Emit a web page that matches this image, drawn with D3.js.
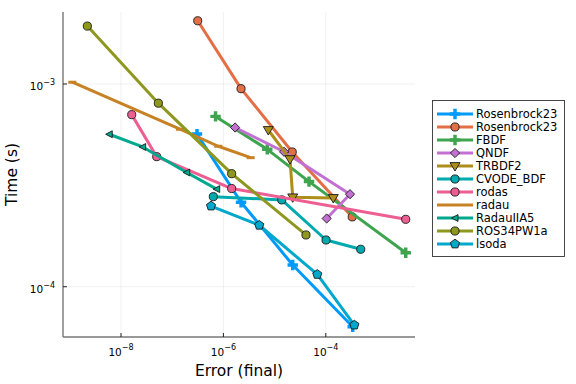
<!DOCTYPE html>
<html>
<head>
<meta charset="utf-8">
<script src="https://cdn.jsdelivr.net/npm/d3@7"></script>
<style>
  body { margin: 0; background: #fff; }
  text { font-family: "DejaVu Sans", sans-serif; fill: #000; }
</style>
</head>
<body>
<div id="graf"></div>
<script>
// I. Datos
nombres = ['Rosenbrock23', 'Rosenbrock23', 'FBDF', 'QNDF', 'TRBDF2', 'CVODE_BDF',
           'rodas', 'radau', 'RadauIIA5', 'ROS34PW1a', 'lsoda']

errRosenbrock23a = [3.05e-7, 2.21e-6, 2.26e-5, 3.35e-4]
timeRosenbrock23a = [5.66e-4, 2.61e-4, 1.28e-4, 6.35e-5]
errRosenbrock23b = [3.15e-7, 2.21e-6, 2.21e-5, 3.28e-4]
timeRosenbrock23b = [2.05e-3, 9.48e-4, 4.62e-4, 2.21e-4]
errFBDF = [7.02e-7, 7.19e-6, 4.70e-5, 3.64e-3]
timeFBDF = [6.92e-4, 4.76e-4, 3.30e-4, 1.47e-4]
errQNDF = [1.69e-6, 1.53e-5, 2.97e-4, 1.04e-4]
timeQNDF = [6.10e-4, 4.63e-4, 2.86e-4, 2.17e-4]
errTRBDF2 = [7.53e-6, 2.00e-5, 2.26e-5, 1.40e-4]
timeTRBDF2 = [5.93e-4, 4.26e-4, 2.76e-4, 2.74e-4]
errCVODE = [6.35e-7, 1.38e-5, 1.01e-4, 4.81e-4]
timeCVODE = [2.78e-4, 2.68e-4, 1.70e-4, 1.53e-4]
errRodas = [1.62e-8, 4.98e-8, 1.45e-6, 3.64e-3]
timeRodas = [7.06e-4, 4.38e-4, 3.05e-4, 2.15e-4]
errRadau = [1.12e-9, 1.42e-7, 7.94e-7, 3.41e-6]
timeRadau = [1.02e-3, 5.98e-4, 4.93e-4, 4.33e-4]
errRadauIIA5 = [5.90e-9, 2.65e-8, 1.92e-7, 7.40e-7]
timeRadauIIA5 = [5.65e-4, 4.89e-4, 3.66e-4, 3.03e-4]
errROS34 = [2.20e-9, 5.36e-8, 1.45e-6, 4.10e-5]
timeROS34 = [1.93e-3, 8.04e-4, 3.61e-4, 1.80e-4]
errLsoda = [5.73e-7, 5.02e-6, 6.82e-5, 3.61e-4]
timeLsoda = [2.50e-4, 2.01e-4, 1.15e-4, 6.47e-5]

errores = [errRosenbrock23a, errRosenbrock23b, errFBDF, errQNDF, errTRBDF2, errCVODE,
           errRodas, errRadau, errRadauIIA5, errROS34, errLsoda]
tiempos = [timeRosenbrock23a, timeRosenbrock23b, timeFBDF, timeQNDF, timeTRBDF2, timeCVODE,
           timeRodas, timeRadau, timeRadauIIA5, timeROS34, timeLsoda]

xTicks = [1e-8, 1e-6, 1e-4]
xTickExp = ['8', '6', '4']
yTicks = [1e-4, 1e-3]
yTickExp = ['4', '3']

// estilos
colores = ['#009AFA', '#E36F47', '#3EA44E', '#C271D2', '#AC8E18', '#00A9AD',
           '#ED5E93', '#C68225', '#00A98D', '#8E971E', '#00A8CB']
marcadores = ['cross', 'circle', 'cross', 'diamond', 'dtriangle', 'circle',
              'circle', 'hline', 'ltriangle', 'circle', 'pentagon']

// II. Configuración
ancho_total = 576
alto_total = 384
plot = { left: 63, right: 415, top: 12, bottom: 337 }

svg = d3.select('#graf').append('svg')
        .attr('width', ancho_total)
        .attr('height', alto_total)

x = d3.scaleLog()
      .domain([Math.pow(10, -9.133), Math.pow(10, -2.258)])
      .range([plot.left, plot.right])
y = d3.scaleLog()
      .domain([Math.pow(10, -4.248), Math.pow(10, -2.645)])
      .range([plot.bottom, plot.top])

// rejilla
g = svg.append('g')
g.selectAll('.gx').data(xTicks).enter().append('line')
  .attr('x1', d => x(d)).attr('x2', d => x(d))
  .attr('y1', plot.top).attr('y2', plot.bottom)
  .attr('stroke', '#000').attr('stroke-opacity', 0.1).attr('stroke-width', 0.6)
g.selectAll('.gy').data(yTicks).enter().append('line')
  .attr('y1', d => y(d)).attr('y2', d => y(d))
  .attr('x1', plot.left).attr('x2', plot.right)
  .attr('stroke', '#000').attr('stroke-opacity', 0.1).attr('stroke-width', 0.6)

// marcadores
function marcador(tipo) {
  switch (tipo) {
    case 'circle': return d3.symbol(d3.symbolCircle, 52)()
    case 'cross': return d3.symbol(d3.symbolCross, 60)()
    case 'diamond': return 'M0,-4.6L4.6,0L0,4.6L-4.6,0Z'
    case 'dtriangle': return 'M-5,-3.4L5,-3.4L0,5Z'
    case 'ltriangle': return 'M-3.6,0L3,-3.4L3,3.4Z'
    case 'hline': return 'M-4,-1.5L4,-1.5L4,1.5L-4,1.5Z'
    case 'pentagon':
      return d3.range(5).map(i => {
        a = -Math.PI / 2 + i * 2 * Math.PI / 5
        return (i ? 'L' : 'M') + (4.8 * Math.cos(a)).toFixed(2) + ',' + (4.8 * Math.sin(a)).toFixed(2)
      }).join('') + 'Z'
  }
}

function conBorde(tipo) {
  return !(tipo == 'cross' || tipo == 'hline')
}

linea = d3.line().x(d => x(d[0])).y(d => y(d[1]))

clip = svg.append('clipPath').attr('id', 'clip')
clip.append('rect').attr('x', plot.left).attr('y', plot.top)
    .attr('width', plot.right - plot.left).attr('height', plot.bottom - plot.top)

series = svg.append('g').attr('clip-path', 'url(#clip)')

nombres.forEach((n, i) => {
  pts = errores[i].map((e, j) => [e, tiempos[i][j]])
  s = series.append('g')
  s.append('path')
    .attr('d', linea(pts))
    .attr('fill', 'none')
    .attr('stroke', colores[i])
    .attr('stroke-width', 3)
    .attr('stroke-linejoin', 'round')
  s.selectAll('path.m').data(pts).enter().append('path')
    .attr('class', 'm')
    .attr('transform', d => `translate(${x(d[0])}, ${y(d[1])})`)
    .attr('d', marcador(marcadores[i]))
    .attr('fill', colores[i])
    .attr('stroke', conBorde(marcadores[i]) ? '#1a1a1a' : 'none')
    .attr('stroke-width', 0.9)
})

// III. Ejes
ejes = svg.append('g')
ejes.append('line')
  .attr('x1', plot.left).attr('x2', plot.left)
  .attr('y1', plot.top).attr('y2', plot.bottom)
  .attr('stroke', '#777').attr('stroke-width', 1.4)
ejes.append('line')
  .attr('x1', plot.left).attr('x2', plot.right)
  .attr('y1', plot.bottom).attr('y2', plot.bottom)
  .attr('stroke', '#777').attr('stroke-width', 1.4)

xTicks.forEach((t, i) => {
  ejes.append('line')
    .attr('x1', x(t)).attr('x2', x(t))
    .attr('y1', plot.bottom).attr('y2', plot.bottom - 4)
    .attr('stroke', '#222').attr('stroke-width', 1)
  lab = ejes.append('text')
    .attr('x', x(t)).attr('y', 355.5)
    .attr('text-anchor', 'middle')
    .style('font-size', '10.5px')
  lab.append('tspan').text('10')
  lab.append('tspan').attr('dy', -5.5).style('font-size', '8px').text('\u2212' + xTickExp[i])
})

yTicks.forEach((t, i) => {
  ejes.append('line')
    .attr('x1', plot.left).attr('x2', plot.left + 4)
    .attr('y1', y(t)).attr('y2', y(t))
    .attr('stroke', '#222').attr('stroke-width', 1)
  lab = ejes.append('text')
    .attr('x', 55).attr('y', y(t) + 6.5)
    .attr('text-anchor', 'end')
    .style('font-size', '10.5px')
  lab.append('tspan').text('10')
  lab.append('tspan').attr('dy', -5.5).style('font-size', '8px').text('\u2212' + yTickExp[i])
})

svg.append('text')
  .attr('x', (plot.left + plot.right) / 2).attr('y', 376)
  .attr('text-anchor', 'middle')
  .style('font-size', '15.5px')
  .text('Error (final)')

svg.append('text')
  .attr('transform', `translate(17, ${(plot.top + plot.bottom) / 2}) rotate(-90)`)
  .attr('text-anchor', 'middle')
  .style('font-size', '15.5px')
  .text('Time (s)')

// IV. Leyenda
leyenda = svg.append('g')
leyenda.append('rect')
  .attr('x', 432.5).attr('y', 100.5)
  .attr('width', 132).attr('height', 156)
  .attr('fill', '#fff').attr('stroke', '#333').attr('stroke-width', 0.9)

nombres.forEach((n, i) => {
  yy = 114 + i * 13
  e = leyenda.append('g')
  e.append('line')
    .attr('x1', 437).attr('x2', 473)
    .attr('y1', yy).attr('y2', yy)
    .attr('stroke', colores[i]).attr('stroke-width', 3)
  if (marcadores[i] != 'hline') {
    e.append('path')
      .attr('transform', `translate(455, ${yy})`)
      .attr('d', marcador(marcadores[i]))
      .attr('fill', colores[i])
      .attr('stroke', conBorde(marcadores[i]) ? '#1a1a1a' : 'none')
      .attr('stroke-width', 0.9)
  }
  e.append('text')
    .attr('x', 476).attr('y', yy + 4)
    .style('font-size', '11.5px')
    .text(n)
})
</script>
</body>
</html>
